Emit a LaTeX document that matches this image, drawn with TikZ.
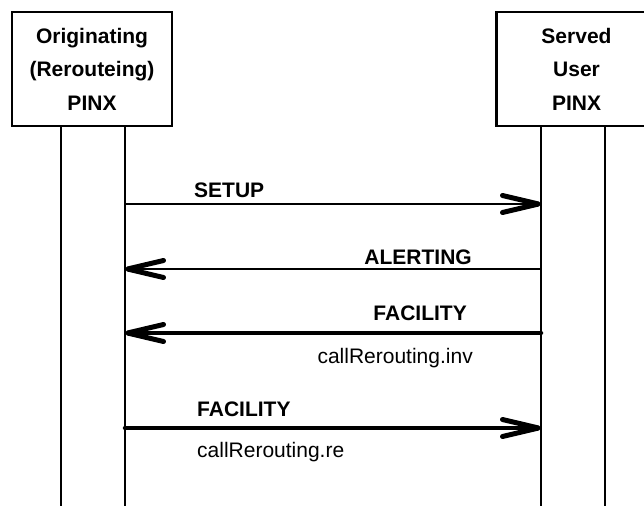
\documentclass[tikz,border=0pt]{standalone}
\usepackage{fontspec}
\setmainfont{Liberation Sans}
\usetikzlibrary{positioning}
\usetikzlibrary{arrows.meta}

\begin{document}
\begin{tikzpicture}[x=1pt, y=-1pt,
		pinxnode/.style={rectangle, draw, line width=2.5pt, minimum width=160pt, minimum height=114pt, inner sep=0pt, align=center, font=\fontsize{21}{33.5}\selectfont\bfseries},
		msgname/.style={inner sep=0pt, font=\fontsize{21}{24}\selectfont\bfseries},
		msgarg/.style={inner sep=0pt, font=\fontsize{21}{24}\selectfont},
		lifeline/.style={line width=2pt},
		barb/.tip={Straight Barb[length=36pt, width=17pt, line width=5pt, round]},
		thinmsg/.style={line width=2pt, -barb},
		thickmsg/.style={line width=4.5pt, line cap=round, -barb},
		]
		\useasboundingbox (0,0) rectangle (644,506);
		%Nodes
		\node[pinxnode]  (orig)   at (92,69)          {Originating\\(Rerouteing)\\PINX};
		\node[pinxnode]  (served) [right=322pt of orig] {Served\\User\\PINX};
		
		%Lifelines
		\coordinate (orig-a)   at (61,126);
		\coordinate (orig-b)   at (125,126);
		\coordinate (served-a) at (541,126);
		\coordinate (served-b) at (605,126);
		\coordinate (orig-a-end)   at (61,506);
		\coordinate (orig-b-end)   at (125,506);
		\coordinate (served-a-end) at (541,506);
		\coordinate (served-b-end) at (605,506);
		\draw[lifeline] (orig-a) -- (orig-a-end);
		\draw[lifeline] (orig-b) -- (orig-b-end);
		\draw[lifeline] (served-a) -- (served-a-end);
		\draw[lifeline] (served-b) -- (served-b-end);
		
		%Message points
		\coordinate (setup-o)     at (125,204);
		\coordinate (setup-s)     at (541,204);
		\coordinate (alerting-o)  at (125,269);
		\coordinate (alerting-s)  at (541,269);
		\coordinate (facility-o)  at (125,333);
		\coordinate (facility-s)  at (541,333);
		\coordinate (facility2-o) at (125,428);
		\coordinate (facility2-s) at (541,428);
		
		%Labels
		\node[msgname, anchor=base west] (setup)     at (194,197) {SETUP};
		\node[msgname, anchor=base east] (alerting)  at (472,264) {ALERTING};
		\node[msgname, anchor=base east] (facility)  at (467,320) {FACILITY};
		\node[msgarg,  anchor=base east] (inv)       at (473,363) {callRerouting.inv};
		\node[msgname, anchor=base west] (facility2) at (197,416) {FACILITY};
		\node[msgarg,  anchor=base west] (re)        at (197,457) {callRerouting.re};
		
		%Lines
		\draw[thinmsg]  (setup-o) -- (setup-s);
		\draw[thinmsg]  (alerting-s) -- (alerting-o);
		\draw[thickmsg] (facility-s) -- (facility-o);
		\draw[thickmsg] (facility2-o) -- (facility2-s);
		
	\end{tikzpicture}
\end{document}
